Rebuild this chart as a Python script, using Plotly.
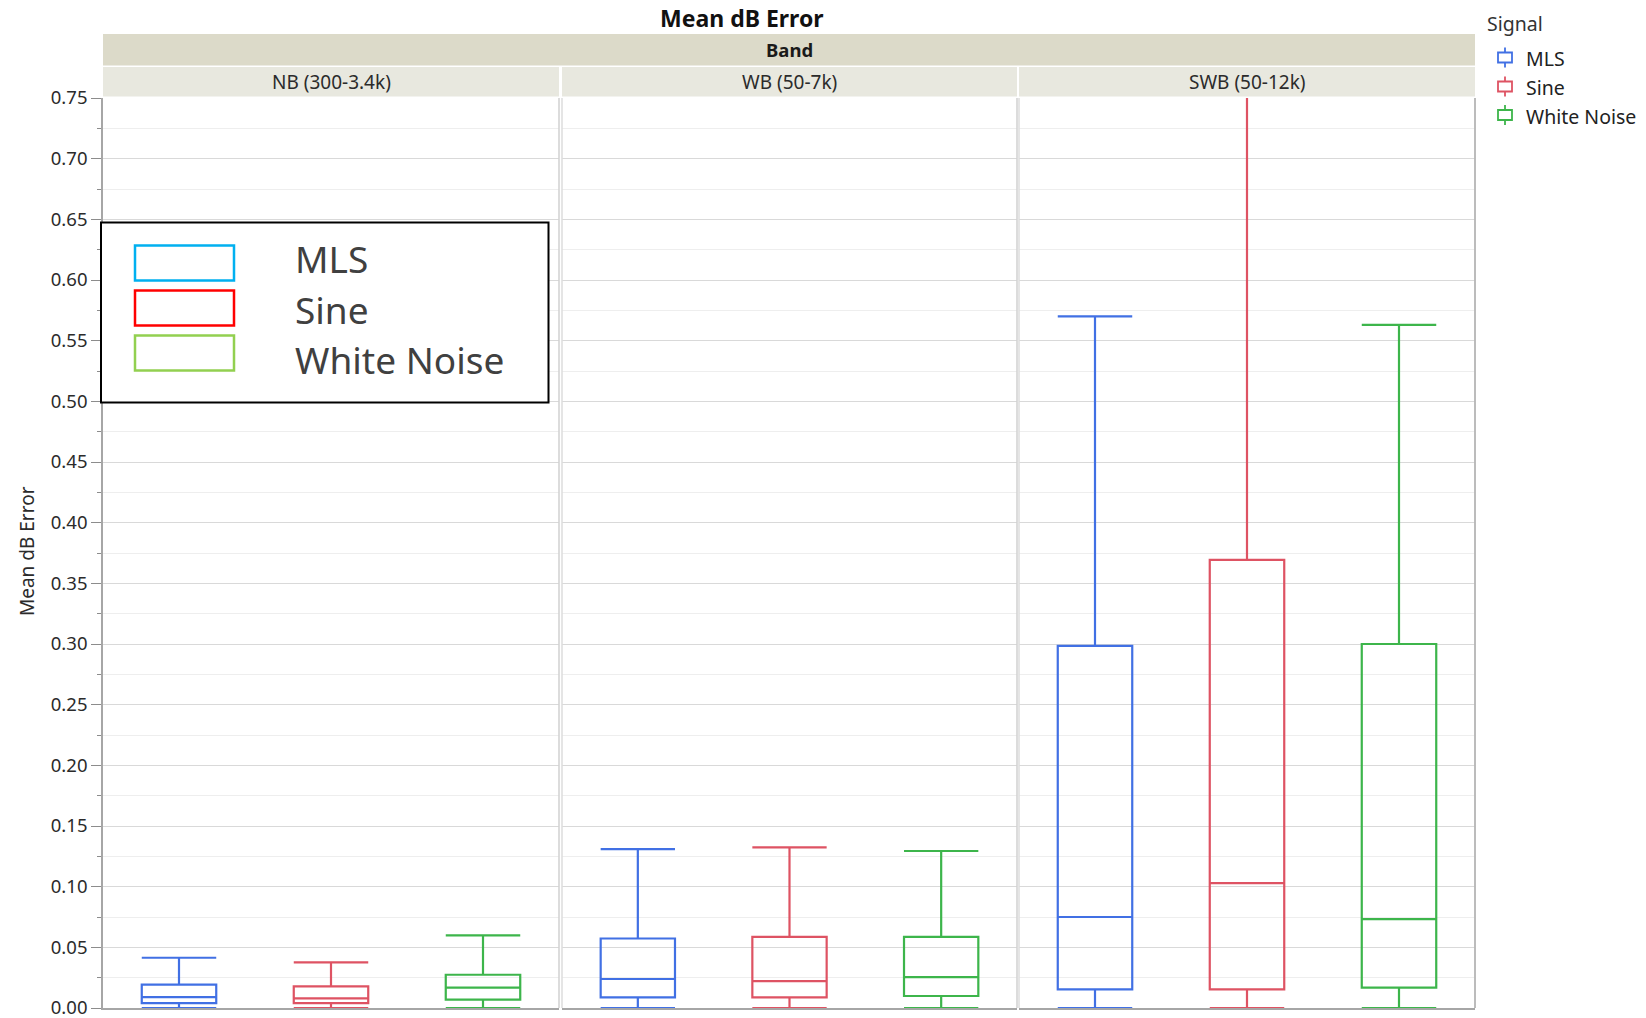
import plotly.graph_objects as go

# ---------------- data ----------------
bands = ["NB (300-3.4k)", "WB (50-7k)", "SWB (50-12k)"]
signals = ["MLS", "Sine", "White Noise"]

# per signal, values for [NB, WB, SWB]
upper_fence = {
    "MLS":         [0.0414, 0.1310, 0.570],
    "Sine":        [0.0376, 0.1324, 0.800],
    "White Noise": [0.0598, 0.1294, 0.563],
}
q3 = {
    "MLS":         [0.0192, 0.0573, 0.2984],
    "Sine":        [0.0178, 0.0586, 0.3694],
    "White Noise": [0.0274, 0.0586, 0.3000],
}
median = {
    "MLS":         [0.0090, 0.0239, 0.0750],
    "Sine":        [0.0080, 0.0222, 0.1029],
    "White Noise": [0.0168, 0.0255, 0.0733],
}
q1 = {
    "MLS":         [0.0041, 0.0088, 0.0154],
    "Sine":        [0.0041, 0.0088, 0.0154],
    "White Noise": [0.0069, 0.0099, 0.0168],
}
lower_fence = {
    "MLS":         [0.0, 0.0, 0.0],
    "Sine":        [0.0, 0.0, 0.0],
    "White Noise": [0.0, 0.0, 0.0],
}

y_ticks = [0.00, 0.05, 0.10, 0.15, 0.20, 0.25, 0.30, 0.35, 0.40, 0.45,
           0.50, 0.55, 0.60, 0.65, 0.70, 0.75]
y_tick_labels = ["%.2f" % v for v in y_ticks]

# ---------------- style ----------------
colors = {"MLS": "#4170E4", "Sine": "#DE5363", "White Noise": "#3DB54B"}
inner_colors = {"MLS": "#00B0F0", "Sine": "#FF0000", "White Noise": "#92D050"}
FONT = "Noto Sans"

W, H = 1646, 1018
L, R, T, B = 103, 1475, 98, 1008   # plot area in pixels


def px(x):
    return (x - L) / (R - L)


def py(y):
    return (B - y) / (B - T)


panel_px = [(103, 559), (562, 1017), (1019, 1475)]
domains = [[px(a), px(b)] for a, b in panel_px]

fig = go.Figure()

for i, band in enumerate(bands):
    xa = "x" if i == 0 else "x%d" % (i + 1)
    for s in signals:
        fig.add_trace(go.Box(
            x=[s],
            q1=[q1[s][i]], median=[median[s][i]], q3=[q3[s][i]],
            lowerfence=[lower_fence[s][i]], upperfence=[upper_fence[s][i]],
            name=s, xaxis=xa, yaxis="y",
            width=0.49, whiskerwidth=1,
            line=dict(color=colors[s], width=2.2),
            fillcolor="rgba(255,255,255,0)",
            boxpoints=False, showlegend=False, hoverinfo="skip",
        ))

layout = dict(
    width=W, height=H,
    margin=dict(l=L, r=W - R, t=T, b=H - B, pad=0, autoexpand=False),
    paper_bgcolor="white", plot_bgcolor="white",
    font=dict(family=FONT, color="#333333", size=16),
    showlegend=False,
    yaxis=dict(
        range=[0, 0.75], tickvals=y_ticks, ticktext=y_tick_labels,
        showgrid=True, gridcolor="#d9d9d9", gridwidth=1.3,
        ticks="outside", ticklen=10, tickcolor="#8c8c8c", tickwidth=1.2,
        showline=True, linecolor="#a6a6a6", linewidth=1.6,
        tickfont=dict(size=18.5, color="#2b2b2b", family=FONT),
        ticklabeloverflow="allow", automargin=False,
        zeroline=False, anchor="x",
        minor=dict(dtick=0.025, showgrid=True, gridcolor="#eeeeee",
                   ticks="outside", ticklen=4, tickcolor="#8c8c8c", tickwidth=1),
    ),
)
for i in range(3):
    key = "xaxis" if i == 0 else "xaxis%d" % (i + 1)
    layout[key] = dict(
        domain=domains[i], type="category", categoryorder="array",
        categoryarray=signals, range=[-0.5, 2.5], automargin=False,
        showticklabels=False, ticks="", showgrid=False, zeroline=False,
        showline=True, linecolor="#a6a6a6", linewidth=2, anchor="y",
    )
fig.update_layout(**layout)

shapes = []
annotations = []


def text(t, x, y, size, color, xanchor="center", angle=0):
    annotations.append(dict(text=t, xref="paper", yref="paper",
                            x=px(x), y=py(y), xanchor=xanchor, yanchor="middle",
                            showarrow=False, textangle=angle,
                            font=dict(size=size, color=color, family=FONT)))


# panel borders
for i, (a, b) in enumerate(panel_px):
    if i > 0:
        shapes.append(dict(type="line", xref="paper", yref="paper",
                           x0=px(a), x1=px(a), y0=0, y1=1,
                           line=dict(color="#dcdcdc", width=1.5)))
    col = "#b5b5b5" if i == 2 else "#d0d0d0"
    shapes.append(dict(type="line", xref="paper", yref="paper",
                       x0=px(b), x1=px(b), y0=0, y1=1,
                       line=dict(color=col, width=1.8 if i == 2 else 1.5)))

# "Band" strip
shapes.append(dict(type="rect", xref="paper", yref="paper",
                   x0=px(103), x1=px(1475), y0=py(65.5), y1=py(34),
                   fillcolor="#DCDAC9", line=dict(width=0), layer="below"))
text("<b>Band</b>", 789.5, 49.5, 18.5, "#1a1a1a")

# facet strips
for i, (a, b) in enumerate(panel_px):
    shapes.append(dict(type="rect", xref="paper", yref="paper",
                       x0=px(a), x1=px(b), y0=py(96.5), y1=py(67),
                       fillcolor="#E8E8DF", line=dict(width=0), layer="below"))
    text(bands[i], (a + b) / 2, 81.5, 19, "#2b2b2b")

# title
text("<b>Mean dB Error</b>", 742, 18, 23, "#111111")
# y axis title
text("Mean dB Error", 27, 551, 19, "#2b2b2b", angle=-90)

# right legend (JMP style)
text("Signal", 1485, 23, 19.5, "#333333", xanchor="left")
leg_y = [58.5, 87.5, 116]
for s, yc in zip(signals, leg_y):
    shapes.append(dict(type="line", xref="paper", yref="paper",
                       x0=px(1505), x1=px(1505), y0=py(yc + 9), y1=py(yc - 11),
                       line=dict(color=colors[s], width=1.8)))
    shapes.append(dict(type="rect", xref="paper", yref="paper",
                       x0=px(1498), x1=px(1512), y0=py(yc + 4), y1=py(yc - 6),
                       fillcolor="white", line=dict(color=colors[s], width=1.8)))
    text(s, 1524, yc, 19.5, "#222222", xanchor="left")

# inner legend box
shapes.append(dict(type="rect", xref="paper", yref="paper",
                   x0=px(101), x1=px(548.5), y0=py(402.5), y1=py(222.5),
                   fillcolor="white", line=dict(color="#000000", width=2)))
inner_rects = [(245.5, 280.5), (290.5, 325.5), (335.5, 370.5)]
inner_text_y = [258, 309, 359]
for s, (t, b), ty in zip(signals, inner_rects, inner_text_y):
    shapes.append(dict(type="rect", xref="paper", yref="paper",
                       x0=px(135), x1=px(234), y0=py(b), y1=py(t),
                       fillcolor="white", line=dict(color=inner_colors[s], width=2.5)))
    text(s, 293, ty, 37, "#404040", xanchor="left")

fig.update_layout(shapes=shapes, annotations=annotations)

fig.write_html("out.html", config={"displayModeBar": False},
               post_script="document.body.style.margin='0';document.body.style.padding='0';")
